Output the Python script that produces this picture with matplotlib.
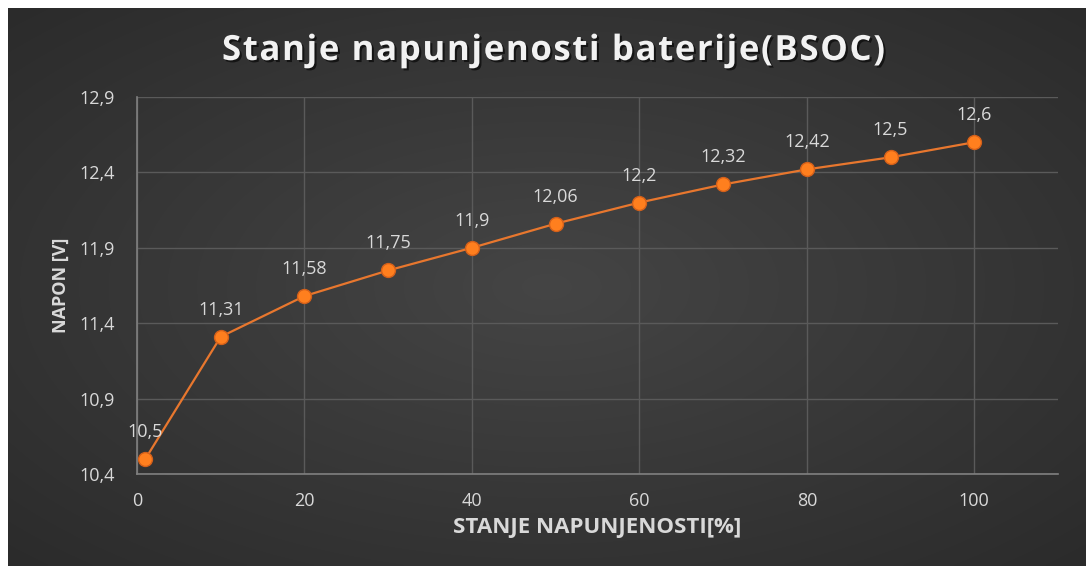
import matplotlib
matplotlib.use("Agg")
import matplotlib.pyplot as plt
import matplotlib.patheffects as pe
import numpy as np

# ── Data ──────────────────────────────────────────────────────────────────────
soc_pct   = [1, 10, 20, 30, 40, 50, 60, 70, 80, 90, 100]
voltage_v = [10.5, 11.31, 11.58, 11.75, 11.9, 12.06, 12.2, 12.32, 12.42, 12.5, 12.6]
x_ticks   = [0, 20, 40, 60, 80, 100]
y_ticks   = [10.4, 10.9, 11.4, 11.9, 12.4, 12.9]

title  = "Stanje napunjenosti baterije(BSOC)"
xlabel = "STANJE NAPUNJENOSTI[%]"
ylabel = "NAPON [V]"

txt_col  = "#d9d9d9"
line_col = "#e8772e"
mark_col = "#ff7f1e"

W, H = 1086, 566
fig = plt.figure(figsize=(W / 100, H / 100), dpi=100)
fig.patch.set_facecolor("white")

# ── Background: dark radial gradient (chart area, white strip top/left) ──────
bg = fig.add_axes([8 / W, 0, 1 - 8 / W, 1 - 8 / H], zorder=-10)
yy, xx = np.mgrid[-1:1:200j, -1:1:400j]
r = np.sqrt(xx ** 2 + yy ** 2)
shade = 0.27 - 0.10 * np.clip(r / 1.4, 0, 1)
bg.imshow(np.dstack([shade] * 3), aspect="auto", extent=[0, 1, 0, 1],
          interpolation="bilinear")
bg.set_axis_off()

# ── Plot area ────────────────────────────────────────────────────────────────
ax = fig.add_axes([137 / W, 1 - 474 / H, (1058 - 137) / W, (474 - 97) / H])
ax.set_facecolor("none")

ax.plot(soc_pct, voltage_v, color=line_col, linewidth=1.6, zorder=3,
        marker="o", markersize=10, markerfacecolor=mark_col,
        markeredgecolor="#d4601a", markeredgewidth=1.0)

for x, y in zip(soc_pct, voltage_v):
    ax.annotate(f"{y:g}".replace(".", ","), (x, y), xytext=(0, 13),
                textcoords="offset points", ha="center", va="bottom",
                color=txt_col, fontsize=13, family="Open Sans")

ax.set_xlim(0, 110)
ax.set_ylim(10.4, 12.9)
ax.set_xticks(x_ticks)
ax.set_yticks(y_ticks)
ax.set_xticklabels([str(t) for t in x_ticks])
ax.set_yticklabels([f"{t:.1f}".replace(".", ",") for t in y_ticks])
ax.tick_params(length=0, colors=txt_col, labelsize=13)
ax.tick_params(axis="y", pad=16)
ax.tick_params(axis="x", pad=13)
for lab in ax.get_xticklabels() + ax.get_yticklabels():
    lab.set_family("Open Sans")

ax.grid(True, color="#5a5a5a", linewidth=1.0)
ax.set_axisbelow(True)
for s in ["top", "right"]:
    ax.spines[s].set_visible(False)
for s in ["left", "bottom"]:
    ax.spines[s].set_color("#808080")
    ax.spines[s].set_linewidth(1.2)

ax.set_xlabel(xlabel, color=txt_col, fontsize=16, fontweight="bold",
              family="Open Sans", labelpad=5)
ax.set_ylabel(ylabel, color=txt_col, fontsize=13, fontweight="bold",
              family="Open Sans", labelpad=7)

# ── Title with letter tracking (spans x≈222..885 px in the reference) ────────
shadow = [pe.withSimplePatchShadow(offset=(1.5, -1.5),
                                   shadow_rgbFace="black", alpha=0.6)]
t_kw = dict(color="#f2f2f2", fontsize=25, fontweight="bold",
            family="Open Sans", va="center", ha="left")
renderer = fig.canvas.get_renderer()
probe = fig.text(0, 0, title, **t_kw)
base_w = probe.get_window_extent(renderer).width
probe.remove()
target_w = 663
gap = (target_w - base_w) / (len(title) - 1)
x0 = 222
y0 = H - 51
for i, ch in enumerate(title):
    if i:
        p = fig.text(0, 0, title[:i], **t_kw)
        pw = p.get_window_extent(renderer).width
        p.remove()
    else:
        pw = 0
    fig.text((x0 + pw + gap * i) / W, y0 / H, ch, path_effects=shadow, **t_kw)

fig.savefig("out.png", dpi=100, facecolor=fig.get_facecolor())
